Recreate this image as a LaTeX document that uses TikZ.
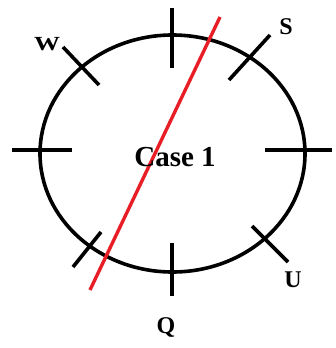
\documentclass[tikz,border=0pt]{standalone}
\usepackage{fontspec}
\setmainfont{Liberation Serif}
\begin{document}
\begin{tikzpicture}[x=1pt,y=-1pt,
  ring/.style={draw=black,line width=3.6pt},
  tick/.style={draw=black,line width=3.6pt},
  cutline/.style={draw=redline,line width=3.4pt},
  lbl/.style={font=\bfseries\fontsize{24}{26}\selectfont,text=black,inner sep=0pt}]
\definecolor{redline}{RGB}{232,30,38}
\useasboundingbox (0,0) rectangle (335,348);
\coordinate (c) at (172.5,153.5);
\draw[ring] (c) ellipse [x radius=132.5, y radius=118.5];
% straight ticks
\coordinate (t1) at (172,8);   \coordinate (t2) at (172,68);
\coordinate (l1) at (12,150);  \coordinate (l2) at (72,150);
\coordinate (r1) at (265,150); \coordinate (r2) at (332,150);
\coordinate (b1) at (172,243); \coordinate (b2) at (172,296);
\draw[tick] (t1) -- (t2);
\draw[tick] (l1) -- (l2);
\draw[tick] (r1) -- (r2);
\draw[tick] (b1) -- (b2);
% diagonal ticks
\coordinate (w1) at (63,47);   \coordinate (w2) at (99,85);
\coordinate (s1) at (270,35);  \coordinate (s2) at (229,80);
\coordinate (p1) at (101,232); \coordinate (p2) at (73,267);
\coordinate (u1) at (252,226); \coordinate (u2) at (288,262);
\draw[tick] (w1) -- (w2);
\draw[tick] (s1) -- (s2);
\draw[tick] (p1) -- (p2);
\draw[tick] (u1) -- (u2);
% red line
\coordinate (ra) at (220,17);
\coordinate (rb) at (90,290);
\draw[cutline] (ra) -- (rb);
% labels
\node[lbl,font=\bfseries\fontsize{20}{22}\selectfont,xscale=1.3] (W) at (47,44) {W};
\node[lbl] (S) at (286,27) {S};
\node[lbl] (U) at (293,280) {U};
\node[lbl] (Q) at (166,327) {Q};
\node[lbl,font=\bfseries\fontsize{29}{31}\selectfont] (case) at (175,157) {Case 1};
\end{tikzpicture}
\end{document}
